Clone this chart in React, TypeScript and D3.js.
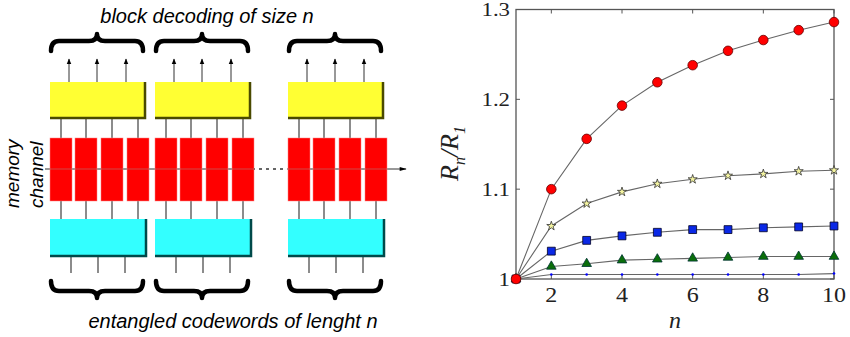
import React from 'react';
import * as d3 from 'd3';

// n values (x axis)
const nValues = [1, 2, 3, 4, 5, 6, 7, 8, 9, 10];
// R_n / R_1 for each curve
const circleSeries = [1, 1.1, 1.156, 1.193, 1.219, 1.238, 1.254, 1.266, 1.277, 1.286];
const starSeries = [1, 1.059, 1.084, 1.097, 1.106, 1.111, 1.115, 1.117, 1.12, 1.121];
const squareSeries = [1, 1.031, 1.043, 1.048, 1.052, 1.055, 1.055, 1.057, 1.058, 1.059];
const triangleSeries = [1, 1.014, 1.017, 1.021, 1.022, 1.023, 1.024, 1.025, 1.025, 1.025];
const dotSeries = [1, 1.005, 1.005, 1.005, 1.005, 1.005, 1.005, 1.005, 1.005, 1.006];

const xTicks = [2, 4, 6, 8, 10];
const yTicks = [1, 1.1, 1.2, 1.3];

// diagram: blocks start x, wires inside each block
const blockStarts = [50, 155, 288];
const redOffsets = [0, 25, 51, 77];
const arrowOffsets = [19, 47, 76];
const inputOffsets = [21, 48, 75];

const serif = '"Liberation Serif", "Times New Roman", serif';
const sans = '"Liberation Sans", Arial, sans-serif';

const Brace = ({ x0, x1, yEnd, yMid, yTip }: { x0: number; x1: number; yEnd: number; yMid: number; yTip: number }) => {
  const xm = (x0 + x1) / 2;
  const r = 8;
  const d = `M${x0},${yEnd} Q${x0},${yMid} ${x0 + r},${yMid} L${xm - r},${yMid} Q${xm},${yMid} ${xm},${yTip} Q${xm},${yMid} ${xm + r},${yMid} L${x1 - r},${yMid} Q${x1},${yMid} ${x1},${yEnd}`;
  return <path d={d} fill="none" stroke="#000" strokeWidth={4.5} strokeLinecap="round" strokeLinejoin="round" />;
};

const Diagram = () => {
  const redTop = 138, redH = 63;
  const yelTop = 82, yelH = 36;
  const cyTop = 219, cyH = 37;
  const chanY = 169;
  return (
    <g>
      <defs>
        <marker id="arr" viewBox="0 0 10 10" refX="9" refY="5" markerWidth="6" markerHeight="6" orient="auto">
          <path d="M0,1 L10,5 L0,9 z" fill="#000" />
        </marker>
        <marker id="arr2" viewBox="0 0 10 10" refX="9" refY="5" markerWidth="9" markerHeight="7" orient="auto">
          <path d="M0,2 L10,5 L0,8 z" fill="#000" />
        </marker>
      </defs>
      <text x={207} y={23} textAnchor="middle" fontFamily={sans} fontStyle="italic" fontSize={20}>block decoding of size n</text>
      <text x={233} y={328} textAnchor="middle" fontFamily={sans} fontStyle="italic" fontSize={20}>entangled codewords of lenght n</text>
      <text transform="translate(19,208) rotate(-90)" fontFamily={sans} fontStyle="italic" fontSize={19}>memory</text>
      <text transform="translate(43,208) rotate(-90)" fontFamily={sans} fontStyle="italic" fontSize={19}>channel</text>

      {/* channel line */}
      <line x1={45} x2={252} y1={chanY} y2={chanY} stroke="#333" strokeWidth={1} />
      <line x1={252} x2={287} y1={chanY} y2={chanY} stroke="#333" strokeWidth={1.5} strokeDasharray="3,4" />
      <line x1={287} x2={406} y1={chanY} y2={chanY} stroke="#333" strokeWidth={1} markerEnd="url(#arr2)" />

      {blockStarts.map((x0, gi) => (
        <g key={gi}>
          <Brace x0={x0 + 1} x1={x0 + 93} yEnd={51} yMid={41} yTip={34} />
          <Brace x0={x0 + 1} x1={x0 + 93} yEnd={281} yMid={291} yTip={298} />
          {arrowOffsets.map((o, i) => (
            <line key={i} x1={x0 + o} x2={x0 + o} y1={yelTop} y2={59} stroke="#333" strokeWidth={1} markerEnd="url(#arr)" />
          ))}
          {redOffsets.map((o, i) => (
            <line key={i} x1={x0 + o + 11} x2={x0 + o + 11} y1={yelTop + yelH} y2={cyTop} stroke="#666" strokeWidth={1.5} />
          ))}
          {inputOffsets.map((o, i) => (
            <line key={i} x1={x0 + o} x2={x0 + o} y1={cyTop + cyH} y2={273} stroke="#666" strokeWidth={1.5} />
          ))}
          {/* yellow decoder */}
          <rect x={x0} y={yelTop} width={95} height={yelH} fill="#ffff33" />
          <path d={`M${x0 + 95},${yelTop} L${x0 + 95},${yelTop + yelH} L${x0},${yelTop + yelH}`} fill="none" stroke="#4a4a00" strokeWidth={2.5} />
          {/* cyan encoder */}
          <rect x={x0} y={cyTop} width={96} height={cyH} fill="#33ffff" />
          <path d={`M${x0 + 96},${cyTop} L${x0 + 96},${cyTop + cyH} L${x0},${cyTop + cyH}`} fill="none" stroke="#004a4a" strokeWidth={2.5} />
          {/* red channel uses */}
          {redOffsets.map((o, i) => (
            <rect key={'r' + i} x={x0 + o} y={redTop} width={22} height={redH} fill="#ff0000" stroke="#ff8080" strokeWidth={0.5} />
          ))}
          {redOffsets.map((o, i) => (
            <line key={'c' + i} x1={x0 + o} x2={x0 + o + 22} y1={chanY} y2={chanY} stroke="#999" strokeWidth={0.8} opacity={0.6} />
          ))}
        </g>
      ))}
    </g>
  );
};

const Chart = () => {
  const left = 516, right = 834, top = 9.5, bottom = 279;
  const x = d3.scaleLinear().domain([1, 10]).range([left, right]);
  const y = d3.scaleLinear().domain([1, 1.3]).range([bottom, top]);
  const line = d3.line<number>().x((_, i) => x(nValues[i])).y((d) => y(d));

  const series = [
    { data: dotSeries, type: d3.symbolCircle, size: 5, fill: '#0000ff', stroke: 'none' },
    { data: triangleSeries, type: d3.symbolTriangle, size: 40, fill: '#0a6e0a', stroke: '#033' },
    { data: squareSeries, type: d3.symbolSquare, size: 62, fill: '#0a28e6', stroke: '#002' },
    { data: starSeries, type: d3.symbolStar, size: 26, fill: '#f4f4a0', stroke: '#333' },
    { data: circleSeries, type: d3.symbolCircle, size: 72, fill: '#ff0000', stroke: '#600' },
  ];

  return (
    <g>
      <rect x={left} y={top} width={right - left} height={bottom - top} fill="#fff" stroke="#555" strokeWidth={1.3} />
      {xTicks.map((t) => (
        <g key={t}>
          <line x1={x(t)} x2={x(t)} y1={bottom} y2={bottom - 4} stroke="#555" />
          <line x1={x(t)} x2={x(t)} y1={top} y2={top + 4} stroke="#555" />
          <text transform={`translate(${x(t)},302) scale(1.2,1)`} textAnchor="middle" fontFamily={serif} fontSize={20} fill="#222">{t}</text>
        </g>
      ))}
      {yTicks.map((t) => (
        <g key={t}>
          <line x1={left} x2={left + 4} y1={y(t)} y2={y(t)} stroke="#555" />
          <line x1={right} x2={right - 4} y1={y(t)} y2={y(t)} stroke="#555" />
          <text transform={`translate(510,${y(t) + 6.5}) scale(1.2,1)`} textAnchor="end" fontFamily={serif} fontSize={19} fill="#222">{d3.format('')(t)}</text>
        </g>
      ))}
      <text x={675} y={328} textAnchor="middle" fontFamily={serif} fontStyle="italic" fontSize={24} fill="#222">n</text>
      <text transform="translate(458,181) rotate(-90)" fontFamily={serif} fontStyle="italic" fontSize={26} fill="#222">
        R<tspan fontSize={16} dy={7}>n</tspan><tspan dy={-7}>/R</tspan><tspan fontSize={16} dy={7}>1</tspan>
      </text>
      {series.map((s, si) => (
        <path key={'l' + si} d={line(s.data) || ''} fill="none" stroke="#666" strokeWidth={1.1} />
      ))}
      {series.map((s, si) => (
        <g key={'m' + si}>
          {s.data.map((v, i) => (
            <path key={i} transform={`translate(${x(nValues[i])},${y(v)})`} d={d3.symbol().type(s.type).size(s.size)() || ''} fill={s.fill} stroke={s.stroke} strokeWidth={0.8} />
          ))}
        </g>
      ))}
    </g>
  );
};

const App = () => (
  <svg width={850} height={337} style={{ position: 'absolute', left: 0, top: 0, background: '#fff' }}>
    <Diagram />
    <Chart />
  </svg>
);

export default App;
